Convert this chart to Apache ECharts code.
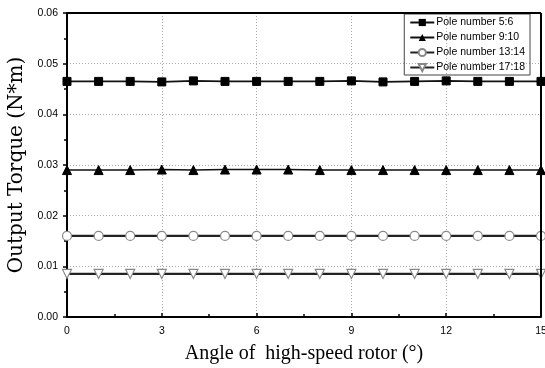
<!DOCTYPE html>
<html><head><meta charset="utf-8">
<script src="https://cdn.jsdelivr.net/npm/echarts@6/dist/echarts.min.js"></script>
<style>html,body{margin:0;padding:0;background:#fff}#c{width:545px;height:368px}</style>
</head><body><div id="c"></div>
<script>
var angles = [0,1,2,3,4,5,6,7,8,9,10,11,12,13,14,15];
var pole5_6 = [0.0465,0.0465,0.0465,0.0464,0.0466,0.0465,0.0465,0.0465,0.0465,0.0466,0.0464,0.0465,0.0466,0.0465,0.0465,0.0465];
var pole9_10 = [0.0290,0.0290,0.0290,0.0291,0.0290,0.0291,0.0291,0.0291,0.0290,0.0290,0.0290,0.0290,0.0290,0.0290,0.0290,0.0290];
var pole13_14 = [0.0160,0.0160,0.0160,0.0160,0.0160,0.0160,0.0160,0.0160,0.0160,0.0160,0.0160,0.0160,0.0160,0.0160,0.0160,0.0160];
var pole17_18 = [0.0085,0.0085,0.0085,0.0085,0.0085,0.0085,0.0085,0.0085,0.0085,0.0085,0.0085,0.0085,0.0085,0.0085,0.0085,0.0085];
var seriesNames = ['Pole number 5:6','Pole number 9:10','Pole number 13:14','Pole number 17:18'];
var xTicks = [0,3,6,9,12,15];
var yTicks = [0,0.01,0.02,0.03,0.04,0.05,0.06];

function pairs(arr){ return angles.map(function(a,i){return [a,arr[i]];}); }
var chart = echarts.init(document.getElementById('c'));
chart.setOption({
  animation:false,
  grid:{left:67,right:4,top:13,bottom:51,outerBoundsMode:'none'},
  legend:{
    right:15, top:14, orient:'vertical', itemGap:4, itemWidth:24, itemHeight:9,
    borderColor:'#444', borderWidth:1, padding:[3,5,2,5],
    textStyle:{fontFamily:'Liberation Sans, Arial', fontSize:10.5, color:'#000', padding:[0,0,0,-3]},
    data:seriesNames
  },
  xAxis:{
    type:'value', min:0, max:15, interval:3,
    axisLine:{onZero:false, lineStyle:{color:'#000', width:2}},
    axisTick:{inside:true, length:4, lineStyle:{color:'#000', width:1.5}},
    minorTick:{show:true, splitNumber:2, length:3, lineStyle:{color:'#000', width:1.5}},
    axisLabel:{fontFamily:'Liberation Sans, Arial', fontSize:10.5, color:'#000', margin:9},
    splitLine:{show:true, lineStyle:{color:'#aaa', type:[1,2], width:1}},
    name:'Angle of  high-speed rotor (°)', nameLocation:'middle', nameGap:27,
    nameTextStyle:{fontFamily:'Liberation Serif, Times New Roman', fontSize:20, color:'#000'}
  },
  yAxis:{
    type:'value', min:0, max:0.06, interval:0.01,
    axisLine:{onZero:false, lineStyle:{color:'#000', width:2}},
    axisTick:{length:4, lineStyle:{color:'#000', width:1.5}},
    minorTick:{show:true, splitNumber:2, length:3, lineStyle:{color:'#000', width:1.5}},
    axisLabel:{fontFamily:'Liberation Sans, Arial', fontSize:10.5, color:'#000', margin:9,
      formatter:function(v){return v.toFixed(2);}},
    splitLine:{show:true, lineStyle:{color:'#aaa', type:[1,2], width:1}},
    name:'Output Torque (N*m)', nameLocation:'middle', nameGap:40,
    nameTextStyle:{fontFamily:'DejaVu Serif', fontSize:20, color:'#000'}
  },
  series:[
    {name:seriesNames[0], type:'line', data:pairs(pole5_6), symbol:'rect', symbolSize:8,
     lineStyle:{color:'#111', width:1.6}, itemStyle:{color:'#000', borderColor:'#000'}},
    {name:seriesNames[1], type:'line', data:pairs(pole9_10), symbol:'triangle', symbolSize:9,
     lineStyle:{color:'#111', width:1.6}, itemStyle:{color:'#000', borderColor:'#000'}},
    {name:seriesNames[2], type:'line', data:pairs(pole13_14), symbol:'circle', symbolSize:9,
     lineStyle:{color:'#222', width:2.2}, itemStyle:{color:'#fff', borderColor:'#888', borderWidth:1.2}},
    {name:seriesNames[3], type:'line', data:pairs(pole17_18), symbol:'triangle', symbolRotate:180, symbolSize:9,
     lineStyle:{color:'#222', width:2.2}, itemStyle:{color:'#fff', borderColor:'#888', borderWidth:1.2}}
  ],
  graphic:[
    {type:'line', shape:{x1:67,y1:13,x2:541,y2:13}, style:{stroke:'#000', lineWidth:2}, z:10},
    {type:'line', shape:{x1:541,y1:13,x2:541,y2:317}, style:{stroke:'#000', lineWidth:2}, z:10}
  ]
});
</script></body></html>
